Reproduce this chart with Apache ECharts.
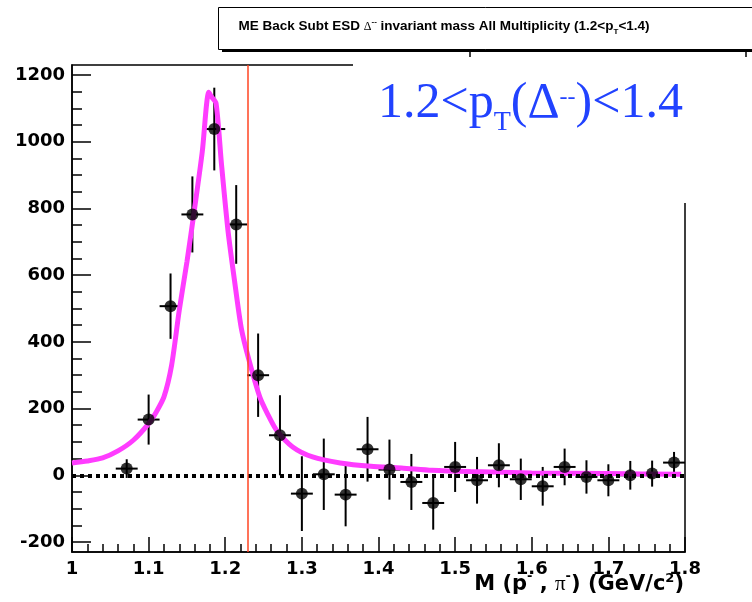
<!DOCTYPE html>
<html>
<head>
<meta charset="utf-8">
<script src="https://cdn.jsdelivr.net/npm/echarts@6/dist/echarts.min.js"></script>
<style>
  html, body { margin: 0; padding: 0; background: #fff; }
  #chart { width: 752px; height: 602px; }
</style>
</head>
<body>
<div id="chart"></div>
<script>
// Invariant mass histogram (background subtracted), bin centres in GeV/c^2
const binCenters = [1.0714, 1.1000, 1.1286, 1.1571, 1.1857, 1.2143, 1.2429, 1.2714, 1.3000,
  1.3286, 1.3571, 1.3857, 1.4143, 1.4429, 1.4714, 1.5000, 1.5286, 1.5571, 1.5857, 1.6143,
  1.6429, 1.6714, 1.7000, 1.7286, 1.7571, 1.7857];
const counts = [20, 167, 507, 782, 1038, 752, 300, 120, -55, 3, -58, 78, 17, -20, -83, 25,
  -15, 30, -12, -33, 25, -5, -15, 0, 5, 38];
const countErrors = [28, 75, 98, 114, 124, 118, 125, 120, 112, 107, 95, 97, 90, 84, 80, 75,
  70, 66, 62, 58, 55, 50, 48, 43, 39, 32];
const binHalfWidth = 0.0143;

// Fitted resonance curve
const fitMass = [1.000, 1.020, 1.040, 1.060, 1.080, 1.100, 1.110, 1.120, 1.130, 1.140, 1.150,
  1.160, 1.170, 1.1785, 1.182, 1.188, 1.195, 1.2035, 1.212, 1.221, 1.231, 1.245, 1.255, 1.267,
  1.288, 1.314, 1.350, 1.390, 1.430, 1.470, 1.520, 1.600, 1.700, 1.795];
const fitCounts = [37, 43, 52, 73, 105, 155, 190, 235, 330, 495, 640, 800, 970, 1148, 1135,
  1115, 935, 735, 585, 440, 345, 235, 185, 135, 85, 55, 37, 27, 22, 15, 11, 7, 5, 3];

// Nominal Delta mass marker
const deltaMass = 1.232;

// Axis ticks
const yMajorTicks = [-200, 0, 200, 400, 600, 800, 1000, 1200];
const yMinorTicks = [-150, -100, -50, 50, 100, 150, 250, 300, 350, 450, 500, 550, 650, 700,
  750, 850, 900, 950, 1050, 1100, 1150];

const BOLD = 'DejaVu Sans';
const chart = echarts.init(document.getElementById('chart'), null, { renderer: 'canvas' });

// Lay out a run of differently styled text pieces along one baseline
const measureCtx = document.createElement('canvas').getContext('2d');
function textRun(parts, anchorX, baseY, align, z) {
  const widths = parts.map(p => { measureCtx.font = p.font; return measureCtx.measureText(p.text).width; });
  const total = widths.reduce((a, b) => a + b, 0);
  let x = align === 'right' ? anchorX - total : align === 'center' ? anchorX - total / 2 : anchorX;
  return parts.map((p, i) => {
    const el = {
      type: 'text', z: z, x: x, y: baseY + (p.dy || 0) - 0.34 * p.size,
      style: { text: p.text, font: p.font, fill: p.color || '#000', verticalAlign: 'middle', align: 'left' }
    };
    x += widths[i];
    return el;
  });
}
function piece(text, size, opts) {
  opts = opts || {};
  const family = opts.family || BOLD;
  const weight = opts.weight || 'bold';
  return { text: text, size: size, dy: opts.dy || 0, color: opts.color,
    font: weight + ' ' + size + 'px "' + family + '"' };
}

const TITLE_FONT = 'Liberation Sans';
const titleParts = [
  piece('ME Back Subt ESD ', 13.5, { family: TITLE_FONT }),
  piece('\u0394', 12, { weight: 'normal', family: 'Liberation Serif' }),
  piece('--', 8, { dy: -6, family: TITLE_FONT }),
  piece(' invariant mass All Multiplicity (1.2<p', 13.5, { family: TITLE_FONT }),
  piece('T', 8, { dy: 4, family: TITLE_FONT }),
  piece('<1.4)', 13.5, { family: TITLE_FONT })
];

const BLUE = '#2142ff';
const rangeParts = [
  piece('1.2<p', 50, { family: 'Liberation Serif', weight: 'normal', color: BLUE }),
  piece('T', 28, { family: 'Liberation Serif', weight: 'normal', color: BLUE, dy: 11 }),
  piece('(\u0394', 50, { family: 'Liberation Serif', weight: 'normal', color: BLUE }),
  piece('--', 24, { family: 'Liberation Serif', weight: 'normal', color: BLUE, dy: -15 }),
  piece(')<1.4', 50, { family: 'Liberation Serif', weight: 'normal', color: BLUE })
];

const xTitleParts = [
  piece('M (p', 21),
  piece('-', 13, { dy: -11 }),
  piece(' , ', 21),
  piece('\u03c0', 21, { family: 'Liberation Serif', weight: 'normal' }),
  piece('-', 13, { dy: -11 }),
  piece(') (GeV/c', 21),
  piece('2', 13, { dy: -9 }),
  piece(')', 21)
];

const graphics = [
  // title box with drop shadow
  { type: 'rect', z: 100, shape: { x: 222, y: 49, width: 540, height: 3 }, style: { fill: '#000' } },
  { type: 'rect', z: 101, shape: { x: 218.5, y: 7.5, width: 560, height: 42 }, style: { fill: '#fff', stroke: '#000', lineWidth: 1 } },
  // edges of the statistics box peeking out below the title
  { type: 'line', z: 100, shape: { x1: 470, y1: 52, x2: 470, y2: 60 }, style: { stroke: '#000', lineWidth: 1.5 } },
  { type: 'line', z: 100, shape: { x1: 746, y1: 52, x2: 746, y2: 60 }, style: { stroke: '#000', lineWidth: 1.5 } },
  // white panel carrying the pT range label
  { type: 'rect', z: 100, shape: { x: 353, y: 57, width: 400, height: 146 }, style: { fill: '#fff' } }
]
  .concat(textRun(titleParts, 444, 31, 'center', 102))
  .concat(textRun(rangeParts, 378, 121, 'left', 102))
  .concat(textRun(xTitleParts, 684, 592, 'right', 102));

const axisLineStyle = { color: '#000', width: 1.5 };
const tickLabel = { fontFamily: BOLD, fontWeight: 'bold', fontSize: 18, color: '#000' };

const option = {
  animation: false,
  backgroundColor: '#fff',
  grid: {
    left: 72, top: 65, width: 613, height: 487,
    show: true, borderColor: '#000', borderWidth: 1.5, backgroundColor: 'transparent',
    containLabel: false, outerBoundsMode: 'none'
  },
  xAxis: {
    type: 'value', min: 1, max: 1.8, interval: 0.1,
    axisLine: { show: true, onZero: false, lineStyle: axisLineStyle },
    axisTick: { show: true, inside: true, length: 15, lineStyle: axisLineStyle },
    minorTick: { show: true, splitNumber: 5, length: 8, lineStyle: axisLineStyle },
    axisLabel: Object.assign({ margin: 8, formatter: v => String(+(+v).toFixed(1)) }, tickLabel),
    splitLine: { show: false }, minorSplitLine: { show: false }
  },
  yAxis: [{
    type: 'value', min: -230, max: 1230, position: 'left',
    axisLine: { show: true, onZero: false, lineStyle: axisLineStyle },
    axisTick: { show: true, inside: true, length: 19, customValues: yMajorTicks, lineStyle: axisLineStyle },
    axisLabel: Object.assign({ margin: 7, customValues: yMajorTicks, formatter: v => String(Math.round(v)) }, tickLabel),
    splitLine: { show: false }
  }, {
    type: 'value', min: -230, max: 1230, position: 'left',
    axisLine: { show: false, onZero: false },
    axisTick: { show: true, inside: true, length: 10, customValues: yMinorTicks, lineStyle: axisLineStyle },
    axisLabel: { show: false },
    splitLine: { show: false }
  }],
  graphic: graphics,
  series: [
    {
      // dotted zero line
      type: 'line', data: [], z: 2, silent: true,
      markLine: {
        silent: true, symbol: 'none', label: { show: false },
        lineStyle: { color: '#000', width: 4, type: [4, 4] },
        data: [{ yAxis: 0 }]
      }
    },
    {
      type: 'custom', z: 3, silent: true,
      data: binCenters.map((x, i) => [x, counts[i], countErrors[i]]),
      renderItem: function (params, api) {
        const x = api.value(0), y = api.value(1), e = api.value(2);
        const c = api.coord([x, y]);
        const top = api.coord([x, y + e]);
        const bot = api.coord([x, y - e]);
        const l = api.coord([x - binHalfWidth, y]);
        const r = api.coord([x + binHalfWidth, y]);
        const st = { stroke: '#000', lineWidth: 2 };
        return {
          type: 'group', children: [
            { type: 'line', shape: { x1: c[0], y1: top[1], x2: c[0], y2: bot[1] }, style: st },
            { type: 'line', shape: { x1: l[0], y1: c[1], x2: r[0], y2: c[1] }, style: st }
          ]
        };
      }
    },
    {
      type: 'line', z: 4, silent: true,
      data: fitMass.map((x, i) => [x, fitCounts[i]]),
      showSymbol: false, smooth: 0.25,
      lineStyle: { color: '#ff3cff', width: 5 }
    },
    {
      type: 'scatter', z: 5, silent: true,
      data: binCenters.map((x, i) => [x, counts[i]]),
      symbol: 'circle', symbolSize: 12,
      itemStyle: { color: '#000' }
    },
    {
      // nominal mass marker
      type: 'line', data: [], z: 6, silent: true,
      markLine: {
        silent: true, symbol: 'none', label: { show: false },
        lineStyle: { color: '#ff4422', width: 1.5, type: 'solid' },
        data: [{ xAxis: deltaMass }]
      }
    }
  ]
};
chart.setOption(option);
</script>
</body>
</html>
